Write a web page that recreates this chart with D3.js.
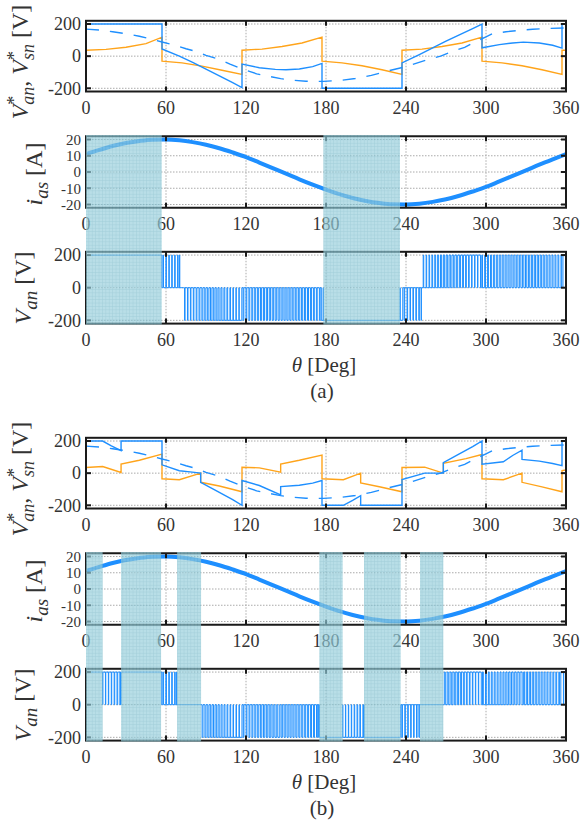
<!DOCTYPE html>
<html><head><meta charset="utf-8">
<script src="https://cdn.jsdelivr.net/npm/d3@7"></script>
<style>
body{margin:0;background:#fff}
svg{display:block}
svg text{font-family:"Liberation Serif","Times New Roman","DejaVu Serif",serif;white-space:pre}
</style>
</head><body>
<svg id="chart" width="583" height="824"></svg>
<script>
// ---------- data ----------
const xTicks = [0, 60, 120, 180, 240, 300, 360];
const vTicks = [-200, 0, 200];
const iTicks = [-20, -10, 0, 10, 20];

// reference phase voltage V*as (dashed), both panels
const vasRef = [[0,168],[10,163],[20,152],[30,140],[40,124],[50,104],[57,88],[65,72],[75,46],[83,28],[90,5],[100,-20],[108,-50],[117,-80],[128,-110],[136,-124],[146,-140],[155,-150],[165,-156],[178,-157],[192,-150],[202,-139],[214,-120],[225,-95],[240,-65],[257,-20],[266,0],[275,30],[284,55],[292,90],[300,120],[305,140],[315,152],[325,160],[335,167],[345,172],[360,176]];

// (a) pole voltage reference V*an and offset V*sn
const vanRefA = [[0,200],[57,200],[57,45],[70,0],[80,-38],[90,-80],[100,-122],[110,-165],[117,-196],[117,-50],[130,-72],[142,-82],[150,-85],[160,-80],[170,-65],[177,-45],[177,-200],[237,-200],[237,-42],[250,10],[260,52],[270,93],[280,133],[290,172],[297,200],[297,52],[310,72],[320,82],[328,87],[340,82],[350,68],[357,50],[357,200],[360,200]];
const vsnA = [[0,37],[15,42],[30,55],[45,78],[57,118],[57,-31],[72,-42],[87,-62],[102,-88],[117,-114],[117,37],[132,44],[147,60],[162,82],[177,118],[177,-31],[192,-42],[207,-60],[222,-85],[237,-114],[237,37],[252,44],[267,60],[282,82],[297,118],[297,-31],[312,-42],[327,-60],[342,-85],[357,-114],[357,37],[360,37]];

// (b)
const vanRefB = [[0,200],[12.5,200],[19,170],[26.3,140],[26.3,200],[57,200],[57,52],[70,15],[78,8],[86,0],[86,-57],[100,-120],[110,-165],[117,-200],[117,-46],[130,-77],[146,-135],[146,-84],[160,-75],[170,-62],[177,-46],[177,-200],[193,-200],[200,-170],[206,-140],[206,-200],[237,-200],[237,-40],[254,0],[268,0],[268,65],[280,120],[290,165],[297,200],[297,55],[313,71],[320,110],[327,143],[327,86],[340,75],[350,60],[357,47],[357,200],[360,200]];
const vsnB = [[0,35],[12.5,41],[26.3,4],[26.3,57],[40,80],[57,118],[57,-35],[70,-41],[86,0],[86,-57],[100,-80],[117,-116],[117,37],[130,33],[146,6],[146,57],[160,80],[177,112],[177,-35],[193,-41],[206,0],[206,-61],[220,-85],[237,-116],[237,35],[254,37],[268,0],[268,61],[285,90],[297,116],[297,-35],[313,-41],[327,0],[327,-57],[342,-85],[357,-116],[357,16],[360,20]];

// phase current i_as
const iasData = [[0,11],[10,13.6],[20,16],[30,17.8],[40,19.1],[50,19.9],[60,20],[70,19.5],[80,18.4],[90,16.8],[100,14.6],[110,12],[120,9.2],[130,5.8],[140,2.4],[150,-1],[160,-4.5],[170,-7.8],[180,-10.8],[190,-13.6],[200,-16],[210,-17.8],[220,-19.1],[230,-19.9],[240,-20],[250,-19.5],[260,-18.4],[270,-16.8],[280,-14.6],[290,-12],[300,-9.2],[310,-5.8],[320,-2.4],[330,1],[340,4.5],[350,7.8],[360,11]];

// V_an output sectors: [start, end, level, mode] c = clamped, p = switching
const vanSectorsA = [[0,56.8,200,"c"],[56.8,70.5,200,"p"],[70.5,73,0,"c"],[73,178,-200,"p"],[178,235.5,-200,"c"],[235.5,252,-200,"p"],[252,360,200,"p"]];
const vanSectorsB = [[0,12.5,200,"c"],[12.5,26.3,200,"p"],[26.3,56.8,200,"c"],[56.8,68.3,200,"p"],[68.3,86.3,0,"c"],[86.3,175,-200,"p"],[175,192.5,-200,"c"],[192.5,208.5,-200,"p"],[208.5,236,-200,"c"],[236,250.5,-200,"p"],[250.5,268,0,"c"],[268,360,200,"p"]];

// clamped (shaded) intervals
const shadeA = [[0,56.8],[178,235.5]];
const shadeB = [[0,12.5],[26.3,56.3],[68.3,86.3],[175,192.5],[208.5,236],[250.5,268]];

const panelNames = ["(a)", "(b)"];

// ---------- drawing ----------
const svg = d3.select("#chart");
const BLUE = "#1e8fff", ORANGE = "#ffa41b", TXT = "#333";

const defs = svg.append("defs");
const pat = defs.append("pattern").attr("id","hatch").attr("patternUnits","userSpaceOnUse")
  .attr("width",3.4).attr("height",3.4);
pat.append("rect").attr("width",3.4).attr("height",3.4).attr("fill","#98cfdc");
pat.append("path").attr("d","M0,0.3H3.4M0.3,0V3.4").attr("stroke","#77b8c9").attr("stroke-width",0.6);

const x = d3.scaleLinear().domain([0,360]).range([86,566]);

function vAt(data, t){
  for (let i=0;i<data.length-1;i++){
    const [x0,y0]=data[i],[x1,y1]=data[i+1];
    if (x1>x0 && t>=x0 && t<=x1) return y0+(y1-y0)*(t-x0)/(x1-x0);
  }
  return data[data.length-1][1];
}
function vanSeries(sectors, ref, T){
  const pts=[];
  sectors.forEach(([s,e,lvl,mode])=>{
    if (mode==="c"){ pts.push([s,lvl],[e,lvl]); return; }
    pts.push([s,0]);
    for (let k=s;k<e-1e-6;k+=T){
      const k2=Math.min(k+T,e), m=(k+k2)/2;
      let d=Math.abs(vAt(ref,m))/200; d=Math.max(0.18,Math.min(0.88,d));
      const h=(k2-k)*d/2;
      pts.push([m-h,0],[m-h,lvl],[m+h,lvl],[m+h,0]);
    }
    pts.push([e,0]);
  });
  return pts;
}

function frame(g, y, ticks){
  const [yb, yt] = y.range();
  g.append("g").selectAll("line").data(ticks).join("line")
    .attr("x1",86).attr("x2",566).attr("y1",d=>y(d)).attr("y2",d=>y(d))
    .attr("stroke","#aaa").attr("stroke-width",1).attr("stroke-dasharray","1.5,1.5");
  g.append("g").selectAll("line").data(xTicks.slice(1,-1)).join("line")
    .attr("x1",d=>x(d)).attr("x2",d=>x(d)).attr("y1",yt).attr("y2",yb)
    .attr("stroke","#aaa").attr("stroke-width",1).attr("stroke-dasharray","1.5,1.5");
}
function box(g, y, ticks, fs){
  const [yb, yt] = y.range();
  g.append("rect").attr("x",86).attr("y",yt).attr("width",480).attr("height",yb-yt)
    .attr("fill","none").attr("stroke","#1a1a1a").attr("stroke-width",2);
  const tk = g.append("g").attr("stroke","#1a1a1a").attr("stroke-width",2);
  xTicks.forEach(t=>{
    tk.append("line").attr("x1",x(t)).attr("x2",x(t)).attr("y1",yb).attr("y2",yb-5);
    tk.append("line").attr("x1",x(t)).attr("x2",x(t)).attr("y1",yt).attr("y2",yt+5);
  });
  ticks.forEach(t=>{
    tk.append("line").attr("x1",86).attr("x2",91).attr("y1",y(t)).attr("y2",y(t));
    tk.append("line").attr("x1",566).attr("x2",561).attr("y1",y(t)).attr("y2",y(t));
  });
  g.append("g").selectAll("text").data(xTicks).join("text")
    .attr("x",d=>x(d)).attr("y",yb+22).attr("text-anchor","middle")
    .attr("font-size",18).attr("fill",TXT).text(d=>d);
  g.append("g").selectAll("text").data(ticks).join("text")
    .attr("x",81).attr("y",d=>y(d)+fs*0.35).attr("text-anchor","end")
    .attr("font-size",fs).attr("fill",TXT).text(d=>d);
}

function yLabel(cx, cy, parts){
  const g = svg.append("g").attr("transform",`translate(${cx},${cy}) rotate(-90)`);
  const inner = g.append("g");
  let cur = 0, supW = 0;
  parts.forEach(p=>{
    const t = inner.append("text").attr("x",cur).attr("y",p.dy||0)
      .attr("font-size",p.fs).attr("fill",TXT)
      .attr("font-style",p.it?"italic":"normal").text(p.t);
    const w = t.node().getComputedTextLength() + (p.gap||0);
    if (p.role==="sup"){ supW = w; }
    else if (p.role==="sub"){ cur += Math.max(supW,w); supW = 0; }
    else { cur += w; }
  });
  inner.attr("transform",`translate(${-cur/2},0)`);
}

const line = d3.line().x(d=>x(d[0]));

function panel(off, idx, vanRef, vsn, sectors, shade){
  const g = svg.append("g");
  // plot 1
  const y1 = d3.scaleLinear().domain([-220,220]).range([91.5+off, 20.8+off]);
  frame(g, y1, vTicks);
  line.y(d=>y1(d[1])).curve(d3.curveLinear);
  g.append("path").attr("d",line(vsn)).attr("fill","none").attr("stroke",ORANGE).attr("stroke-width",1.4);
  g.append("path").attr("d",line(vasRef)).attr("fill","none").attr("stroke",BLUE).attr("stroke-width",1.4).attr("stroke-dasharray","13,11");
  g.append("path").attr("d",line(vanRef)).attr("fill","none").attr("stroke",BLUE).attr("stroke-width",1.4);
  box(g, y1, vTicks, 18);
  // plot 2
  const y2 = d3.scaleLinear().domain([-22,22]).range([207.75+off, 136.25+off]);
  frame(g, y2, iTicks);
  const l2 = d3.line().x(d=>x(d[0])).y(d=>y2(d[1])).curve(d3.curveMonotoneX);
  g.append("path").attr("d",l2(iasData)).attr("fill","none").attr("stroke",BLUE).attr("stroke-width",4);
  box(g, y2, iTicks, 15);
  // plot 3
  const y3 = d3.scaleLinear().domain([-220,220]).range([323.6+off, 251.8+off]);
  frame(g, y3, vTicks);
  const l3 = d3.line().x(d=>x(d[0])).y(d=>y3(d[1]));
  g.append("path").attr("d",l3(vanSeries(sectors, vanRef, 2.2))).attr("fill","none").attr("stroke",BLUE).attr("stroke-width",1);
  box(g, y3, vTicks, 18);
  // labels
  yLabel(28, 62+off, [
    {t:"V",it:true,fs:24},{t:"*",fs:18,dy:-8,role:"sup"},{t:"an",it:true,fs:18,dy:6,role:"sub"},
    {t:",",fs:24,gap:6},
    {t:"V",it:true,fs:24},{t:"*",fs:18,dy:-8,role:"sup"},{t:"sn",it:true,fs:18,dy:6,role:"sub",gap:6},
    {t:"[V]",fs:24}]);
  yLabel(42, 174+off, [{t:"i",it:true,fs:24},{t:"as",it:true,fs:19,dy:6,role:"sub",gap:6},{t:"[A]",fs:24}]);
  yLabel(31, 288+off, [{t:"V",it:true,fs:24},{t:"an",it:true,fs:19,dy:6,role:"sub",gap:6},{t:"[V]",fs:24}]);
  const xl = svg.append("text").attr("x",324).attr("y",372+off).attr("text-anchor","middle")
    .attr("font-size",21).attr("fill",TXT);
  xl.append("tspan").attr("font-style","italic").text("θ");
  xl.append("tspan").text(" [Deg]");
  svg.append("text").attr("x",322).attr("y",398+off).attr("text-anchor","middle")
    .attr("font-size",21).attr("fill",TXT).text(panelNames[idx]);
  // shading on top
  svg.append("g").attr("opacity",0.68).selectAll("rect").data(shade).join("rect")
    .attr("x",d=>x(d[0])).attr("width",d=>x(d[1])-x(d[0]))
    .attr("y",135+off).attr("height",189.5).attr("fill","url(#hatch)");
}

panel(0, 0, vanRefA, vsnA, vanSectorsA, shadeA);
panel(417, 1, vanRefB, vsnB, vanSectorsB, shadeB);
</script>
</body></html>
